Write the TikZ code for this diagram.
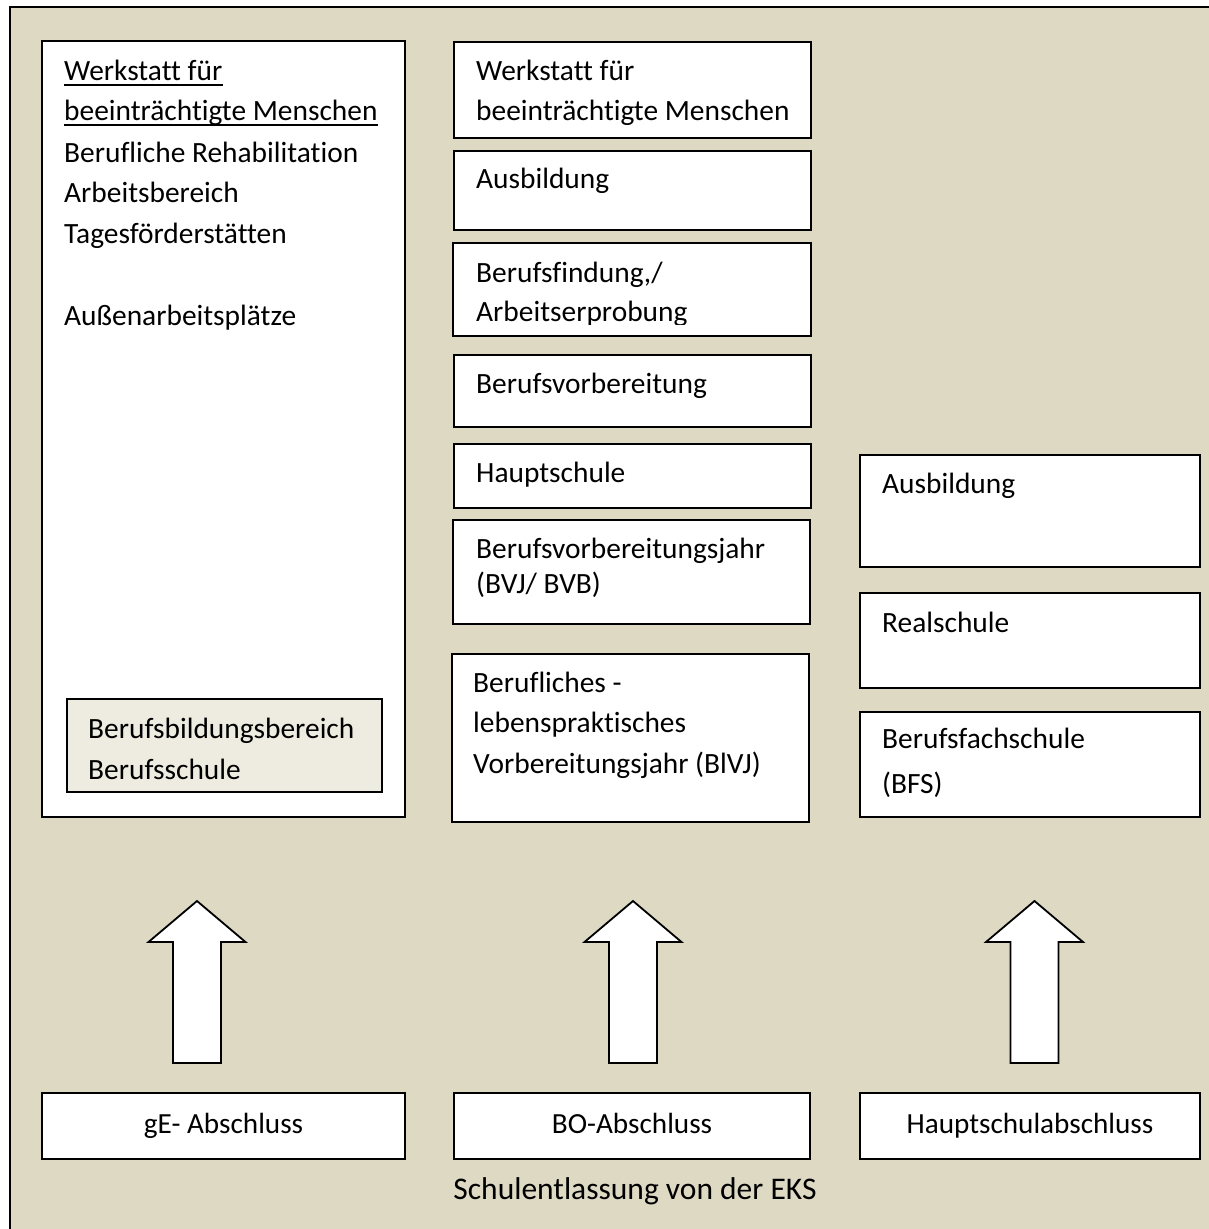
\documentclass[tikz,border=0pt]{standalone}
\usepackage{fontspec}
\setmainfont{Carlito}[Ligatures=NoCommon]
\usetikzlibrary{fit,calc}

\definecolor{paper}{HTML}{DDD9C3}
\definecolor{panel}{HTML}{EEECE1}

\tikzset{
  frame/.style={draw=black, line width=1.8pt},
  box/.style={frame, fill=white, inner sep=0pt},
  subbox/.style={frame, fill=panel, inner sep=0pt},
  txt/.style={inner sep=0pt, anchor=base west, font=\fontsize{29.4}{41}\selectfont},
  ctxt/.style={inner sep=0pt, anchor=base, font=\fontsize{29.2}{41}\selectfont},
  blockarrow/.style={draw=black, line width=1.8pt, fill=white, line join=miter},
  ulline/.style={draw=black, line width=1.6pt}
}

% block arrow pointing up: #1 = centre x
\newcommand{\uparrowat}[1]{%
  \draw[blockarrow] (#1,901) -- (#1+48.5,942) -- (#1+24,942) -- (#1+24,1063)
    -- (#1-24,1063) -- (#1-24,942) -- (#1-48.5,942) -- cycle;}

\begin{document}
\begin{tikzpicture}[x=1pt,y=-1pt]
\useasboundingbox (0,0) rectangle (1209,1229);

% page background with frame
\path[fill=white] (0,0) rectangle (1209,1229);
\draw[frame, fill=paper] (10,7) rectangle (1220,1240);

% ---------- left column: Werkstatt ----------
\node[box, fit={(42,41)(405,817)}] (wfbm) {};
\node[txt] (w1) at (64,80) {Werkstatt für};
\node[txt] (w2) at (64,120) {beeinträchtigte Menschen};
\draw[ulline] ($(w1.base west)+(0,5)$) -- ($(w1.base east)+(0,5)$);
\draw[ulline] ($(w2.base west)+(0,5)$) -- ($(w2.base east)+(0,5)$);
\node[txt] (w3) at (64,162) {Berufliche Rehabilitation};
\node[txt] (w4) at (64,202) {Arbeitsbereich};
\node[txt] (w5) at (64,243) {Tagesförderstätten};
\node[txt] (w6) at (64,325) {Außenarbeitsplätze};

\node[subbox, fit={(67,699)(382,792)}] (bbb) {};
\node[txt] (b1) at (88,738) {Berufsbildungsbereich};
\node[txt] (b2) at (88,779) {Berufsschule};

% ---------- middle column ----------
\node[box, fit={(454,42)(811,138)}] (m1) {};
\node[txt] (m1a) at (476,80) {Werkstatt für};
\node[txt] (m1b) at (476,120) {beeinträchtigte Menschen};

\node[box, fit={(454,151)(811,230)}] (m2) {};
\node[txt] (m2a) at (476,188) {Ausbildung};

\node[box, fit={(453,243)(811,336)}] (m3) {};
\node[txt] (m3a) at (476,282) {Berufsfindung,/};
\begin{scope}
  \clip (453,243) rectangle (811,324);
  \node[txt] (m3b) at (476,321) {Arbeitserprobung};
\end{scope}

\node[box, fit={(454,355)(811,427)}] (m4) {};
\node[txt] (m4a) at (476,393) {Berufsvorbereitung};

\node[box, fit={(454,444)(811,508)}] (m5) {};
\node[txt] (m5a) at (476,482) {Hauptschule};

\node[box, fit={(453,520)(810,624)}] (m6) {};
\node[txt] (m6a) at (476,558) {Berufsvorbereitungsjahr};
\node[txt] (m6b) at (476,593) {(BVJ/ BVB)};

\node[box, fit={(452,654)(809,822)}] (m7) {};
\node[txt] (m7a) at (473,692) {Berufliches -};
\node[txt] (m7b) at (473,732) {lebenspraktisches};
\node[txt] (m7c) at (473,773) {Vorbereitungsjahr (BlVJ)};

% ---------- right column ----------
\node[box, fit={(860,455)(1200,567)}] (r1) {};
\node[txt] (r1a) at (882,493) {Ausbildung};

\node[box, fit={(860,593)(1200,688)}] (r2) {};
\node[txt] (r2a) at (882,632) {Realschule};

\node[box, fit={(860,712)(1200,817)}] (r3) {};
\node[txt] (r3a) at (882,748) {Berufsfachschule};
\node[txt] (r3b) at (882,793) {(BFS)};

% ---------- arrows ----------
\uparrowat{197}
\uparrowat{633}
\uparrowat{1034.5}

% ---------- school leaving certificates ----------
\node[box, fit={(42,1093)(405,1159)}] (s1) {};
\node[ctxt] (s1a) at (223.5,1133) {gE- Abschluss};
\node[box, fit={(454,1093)(810,1159)}] (s2) {};
\node[ctxt] (s2a) at (632,1133) {BO-Abschluss};
\node[box, fit={(860,1093)(1200,1159)}] (s3) {};
\node[ctxt] (s3a) at (1030,1133) {Hauptschulabschluss};

\node[ctxt, font=\fontsize{31.5}{41}\selectfont] (eks) at (635,1199) {Schulentlassung von der EKS};
\end{tikzpicture}
\end{document}
